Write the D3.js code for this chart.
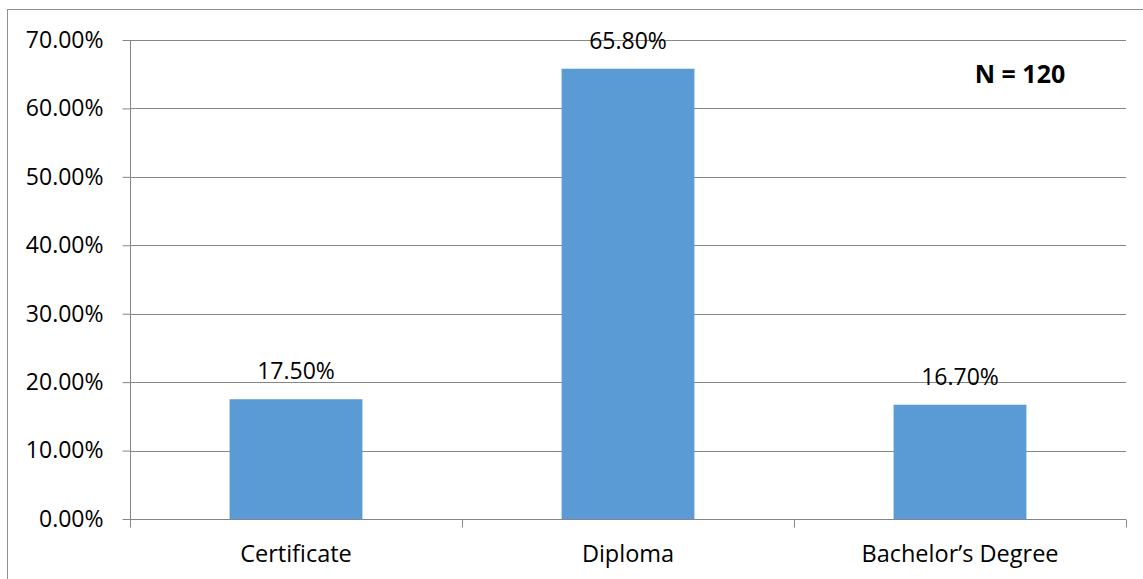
<!DOCTYPE html>
<html>
<head>
<meta charset="utf-8">
<script src="https://cdn.jsdelivr.net/npm/d3@7"></script>
<style>
  html, body { margin: 0; padding: 0; background: #fff; }
  svg { display: block; }
  text { font-family: "Open Sans", "Lato", sans-serif; fill: #000; }
</style>
</head>
<body>
<svg id="chart" width="1143" height="579"></svg>
<script>
// Education level of respondents
const categories = ["Certificate", "Diploma", "Bachelor’s Degree"];
const percentages = [17.5, 65.8, 16.7];
const valueLabels = ["17.50%", "65.80%", "16.70%"];
const yTicks = [0, 10, 20, 30, 40, 50, 60, 70];
const sampleNote = "N = 120";

const svg = d3.select("#chart");
const W = 1143, H = 579;
const plot = { left: 130, right: 1126, top: 40, bottom: 519 };

// Outer chart frame
svg.append("rect")
  .attr("x", 7.5).attr("y", 9.5)
  .attr("width", W + 20).attr("height", H + 20)
  .attr("fill", "none").attr("stroke", "#8f8f8f").attr("stroke-width", 1);

const x = d3.scaleBand()
  .domain(categories)
  .range([plot.left, plot.right])
  .paddingInner(0.6).paddingOuter(0.3);

const xCat = d3.scaleBand().domain(categories).range([plot.left, plot.right]);

const y = d3.scaleLinear().domain([0, 70]).range([plot.bottom, plot.top]);

// Horizontal gridlines
svg.append("g")
  .selectAll("line")
  .data(yTicks.filter(t => t > 0))
  .join("line")
  .attr("x1", plot.left).attr("x2", plot.right)
  .attr("y1", d => Math.round(y(d)) + 0.5).attr("y2", d => Math.round(y(d)) + 0.5)
  .attr("stroke", "#868686").attr("stroke-width", 1);

// Bars
svg.append("g")
  .selectAll("rect")
  .data(categories)
  .join("rect")
  .attr("x", d => x(d))
  .attr("width", x.bandwidth())
  .attr("y", (d, i) => y(percentages[i]))
  .attr("height", (d, i) => plot.bottom - y(percentages[i]))
  .attr("fill", "#5b9bd5");

// Y axis
const yAxis = svg.append("g")
  .attr("transform", `translate(${plot.left + 0.5},0)`)
  .call(d3.axisLeft(y).tickValues(yTicks).tickSize(8).tickPadding(19)
    .tickFormat(d => d.toFixed(2) + "%"));
yAxis.select(".domain").attr("stroke", "#868686").attr("d", `M0,${plot.top}V${plot.bottom}`);
yAxis.selectAll(".tick line").attr("stroke", "#868686");
yAxis.selectAll(".tick text").attr("font-size", 23).attr("font-family", "Open Sans").attr("fill", "#000");

// X axis with category boundary ticks
const xAxisG = svg.append("g").attr("transform", `translate(0,${plot.bottom + 0.5})`);
xAxisG.append("line")
  .attr("x1", plot.left).attr("x2", plot.right)
  .attr("stroke", "#868686");
const boundaries = [xCat(categories[0])].concat(categories.map(c => xCat(c) + xCat.bandwidth()));
xAxisG.selectAll("line.bound")
  .data(boundaries)
  .join("line").attr("class", "bound")
  .attr("x1", d => Math.round(d) + 0.5).attr("x2", d => Math.round(d) + 0.5)
  .attr("y1", 0).attr("y2", 8)
  .attr("stroke", "#868686");
xAxisG.selectAll("text")
  .data(categories)
  .join("text")
  .attr("x", d => xCat(d) + xCat.bandwidth() / 2)
  .attr("y", 42)
  .attr("text-anchor", "middle")
  .attr("font-size", 23.5)
  .text(d => d);

// Value labels above bars
svg.append("g")
  .selectAll("text")
  .data(categories)
  .join("text")
  .attr("x", d => x(d) + x.bandwidth() / 2)
  .attr("y", (d, i) => y(percentages[i]) - 20)
  .attr("text-anchor", "middle")
  .attr("font-size", 23)
  .text((d, i) => valueLabels[i]);

// Sample size note
svg.append("text")
  .attr("x", 1020).attr("y", 83)
  .attr("text-anchor", "middle")
  .attr("font-size", 25)
  .attr("font-weight", "bold")
  .text(sampleNote);
</script>
</body>
</html>
